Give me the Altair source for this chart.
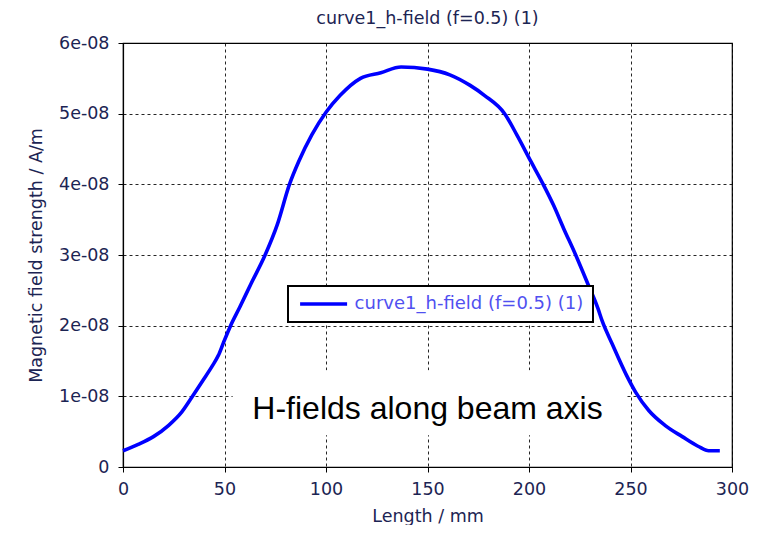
import altair as alt
import pandas as pd

# ---- data ----
length_mm = [0, 7.5, 15, 22.5, 29, 34, 39.5, 44, 47, 49.5, 53, 57.5, 63, 70, 76, 82,
             86.5, 93, 100, 107, 117, 127, 137, 150, 161, 171, 178, 188, 194, 201,
             207, 212, 217, 223, 229, 234, 236, 241, 248, 252.5, 259, 267, 275.5,
             283.5, 288.5, 294]
h_field_e8 = [0.23, 0.32, 0.43, 0.59, 0.78, 0.99, 1.23, 1.43, 1.58, 1.76, 2.00, 2.26,
              2.59, 3.00, 3.43, 4.00, 4.32, 4.70, 5.02, 5.26, 5.50, 5.58, 5.66, 5.63,
              5.55, 5.40, 5.26, 5.00, 4.70, 4.32, 4.00, 3.71, 3.38, 3.00, 2.59, 2.24,
              2.07, 1.74, 1.30, 1.06, 0.80, 0.59, 0.43, 0.29, 0.23, 0.23]
series_name = "curve1_h-field (f=0.5) (1)"
x_ticks = [0, 50, 100, 150, 200, 250, 300]
y_ticks = [0, 1e-08, 2e-08, 3e-08, 4e-08, 5e-08, 6e-08]
annotation_text = ["H-fields along beam axis"]
annotation_x = [150]
annotation_y = [0.82e-08]
annotation_box_x = [54]
annotation_box_x2 = [248]
annotation_box_y = [0.45e-08]
annotation_box_y2 = [1.37e-08]

curve = pd.DataFrame({
    "length": length_mm,
    "h": [v * 1e-08 for v in h_field_e8],
    "series": [series_name] * len(length_mm),
})
note = pd.DataFrame({"text": annotation_text, "x": annotation_x, "y": annotation_y})
box = pd.DataFrame({"x": annotation_box_x, "x2": annotation_box_x2,
                    "y": annotation_box_y, "y2": annotation_box_y2})

FONT = "DejaVu Sans"
TXT = "#1c2453"

x_scale = alt.Scale(domain=[0, 300], nice=False, zero=False)
y_scale = alt.Scale(domain=[0, 6e-08], nice=False)

x_axis = alt.Axis(values=x_ticks, title="Length / mm", grid=True, tickSize=5,
                  labelPadding=8, titlePadding=10, labelFlush=False)
y_axis = alt.Axis(values=y_ticks, title="Magnetic field strength / A/m", grid=True,
                  tickSize=5, labelPadding=9, titlePadding=13,
                  labelExpr="datum.value == 0 ? '0' : replace(format(datum.value, '.0e'), 'e-', 'e-0')")

bg = alt.Chart(box).mark_rect(color="white").encode(
    x=alt.X("x:Q", scale=x_scale, axis=x_axis),
    x2="x2:Q",
    y=alt.Y("y:Q", scale=y_scale, axis=y_axis),
    y2="y2:Q",
)

line = alt.Chart(curve).mark_line(strokeWidth=3.6, interpolate="monotone").encode(
    x=alt.X("length:Q", scale=x_scale, axis=x_axis),
    y=alt.Y("h:Q", scale=y_scale, axis=y_axis),
    color=alt.Color("series:N",
                    scale=alt.Scale(domain=[series_name], range=["#0000ff"]),
                    legend=alt.Legend(title=None, orient="none", legendX=165, legendY=243,
                                      symbolType="M-4,0H4", symbolSize=138,
                                      symbolStrokeWidth=3.5, symbolOffset=17.6,
                                      labelOffset=22, labelColor="#5050f0",
                                      labelFont=FONT, labelFontSize=18,
                                      labelLimit=400,
                                      padding=9, fillColor="white", strokeColor="black")),
)

text = alt.Chart(note).mark_text(font="Liberation Sans", fontSize=32, color="black",
                                 align="center", baseline="middle").encode(
    x=alt.X("x:Q", scale=x_scale),
    y=alt.Y("y:Q", scale=y_scale),
    text="text:N",
)

chart = alt.layer(bg, line, text).properties(
    width=609, height=424,
    title=alt.TitleParams(text=series_name, font=FONT, fontSize=17.5, fontWeight="normal",
                          color=TXT, anchor="middle", offset=7),
    autosize=alt.AutoSizeParams(type="none"),
    padding={"left": 115, "top": 35, "right": 24, "bottom": 58},
).configure_view(stroke="black", strokeWidth=1.2).configure_axis(
    labelFont=FONT, labelFontSize=17.5, labelColor=TXT,
    titleFont=FONT, titleFontSize=17.5, titleColor=TXT, titleFontWeight="normal",
    domainColor="black", domainWidth=1.2, tickColor="black", tickWidth=1,
    gridColor="black", gridDash=[3, 3], gridWidth=1, gridOpacity=0.85,
).configure_legend(strokeWidth=2)

chart.save("out.html", embed_options={"renderer": "svg", "actions": False})
